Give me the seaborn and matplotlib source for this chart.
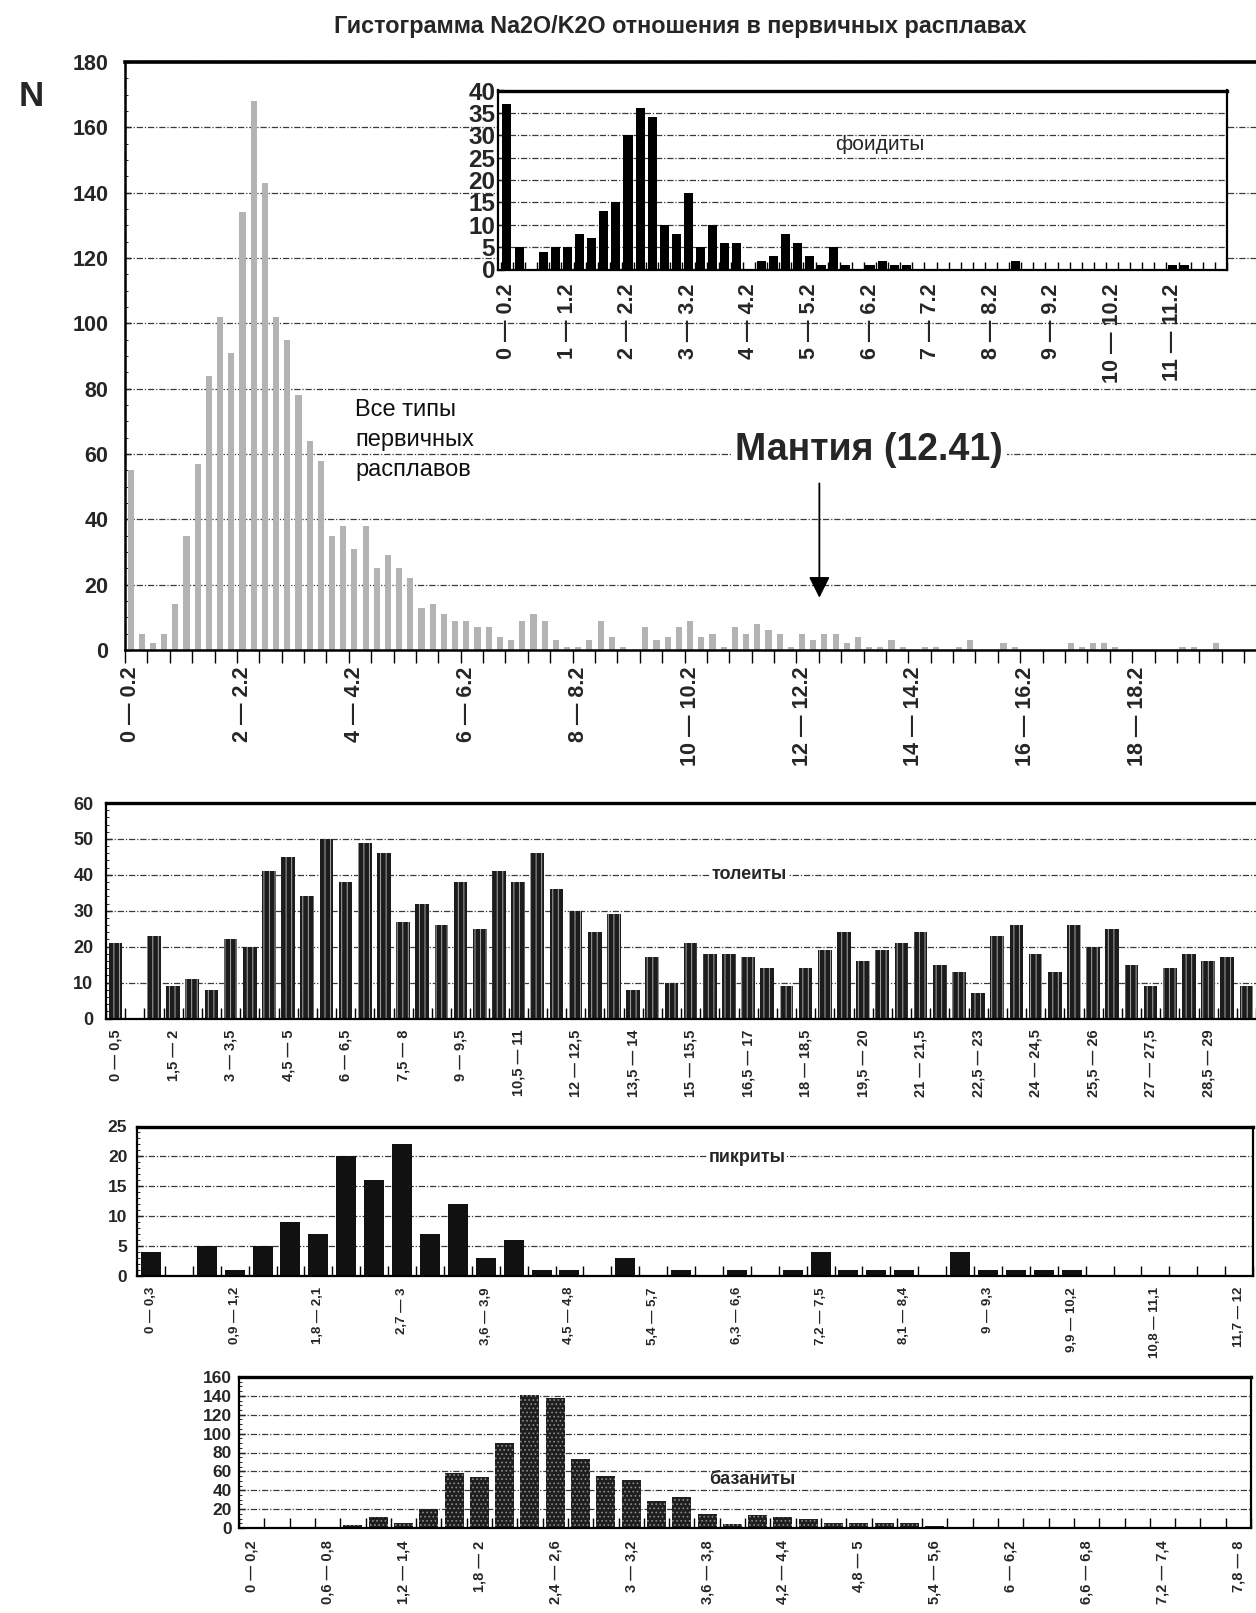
import matplotlib
matplotlib.use("Agg")
import matplotlib.pyplot as plt
from matplotlib import font_manager
from matplotlib.ticker import MultipleLocator
import numpy as np
import pandas as pd
import seaborn as sns

# ---------------- data ----------------
# all primary melts, Na2O/K2O bins of 0.2
all_counts = [55, 5, 2, 5, 14, 35, 57, 84, 102, 91,
              134, 168, 143, 102, 95, 78, 64, 58, 35, 38,
              31, 38, 25, 29, 25, 22, 13, 14, 11, 9,
              9, 7, 7, 4, 3, 9, 11, 9, 3, 1,
              1, 3, 9, 4, 1, 0, 7, 3, 4, 7,
              9, 4, 5, 1, 7, 5, 8, 6, 5, 1,
              5, 3, 5, 5, 2, 4, 1, 1, 3, 1,
              0, 1, 1, 0, 1, 3, 0, 0, 2, 1,
              0, 0, 0, 0, 2, 1, 2, 2, 1, 0,
              0, 0, 0, 0, 1, 1, 0, 2, 0, 0]
# foidites, bins of 0.2
foid_counts = [37, 5, 0, 4, 5, 5, 8, 7, 13, 15,
               30, 36, 34, 10, 8, 17, 5, 10, 6, 6,
               0, 2, 3, 8, 6, 3, 1, 5, 1, 0,
               1, 2, 1, 1, 0, 0, 0, 0, 0, 0,
               0, 0, 2, 0, 0, 0, 0, 0, 0, 0,
               0, 0, 0, 0, 0, 1, 1, 0, 0, 0]
# tholeiites, bins of 0.5
thol_counts = [21, 0, 23, 9, 11, 8, 22, 20, 41, 45,
               34, 50, 38, 49, 46, 27, 32, 26, 38, 25,
               41, 38, 46, 36, 30, 24, 29, 8, 17, 10,
               21, 18, 18, 17, 14, 9, 14, 19, 24, 16,
               19, 21, 24, 15, 13, 7, 23, 26, 18, 13,
               26, 20, 25, 15, 9, 14, 18, 16, 17, 9]
# picrites, bins of 0.3
pikr_counts = [4, 0, 5, 1, 5, 9, 7, 20, 16, 22,
               7, 12, 3, 6, 1, 1, 0, 3, 0, 1,
               0, 1, 0, 1, 4, 1, 1, 1, 0, 4,
               1, 1, 1, 1, 0, 0, 0, 0, 0, 0]
# basanites, bins of 0.2
bas_counts = [1, 0, 1, 0, 3, 12, 5, 20, 58, 54,
              90, 141, 138, 73, 55, 51, 29, 33, 15, 4,
              14, 12, 10, 5, 5, 5, 5, 2, 0, 0,
              0, 0, 0, 0, 0, 0, 0, 0, 0, 0]

all_width, foid_width, thol_width, pikr_width, bas_width = 0.2, 0.2, 0.5, 0.3, 0.2
mantle_ratio = 12.41

title = "Гистограмма Na2O/K2O отношения в первичных расплавах"

# ---------------- style ----------------
sns.set_theme(style="white")
avail = {f.name for f in font_manager.fontManager.ttflist}
narrow = "Liberation Sans Narrow" if "Liberation Sans Narrow" in avail else "Liberation Sans"
plt.rcParams["font.family"] = [narrow, "DejaVu Sans"]
plt.rcParams["hatch.linewidth"] = 0.7
plt.rcParams["axes.facecolor"] = "white"

GRID = dict(color="#3a3a3a", linewidth=0.9, linestyle=(0, (5, 1.5, 1, 1.5)))

W, H = 1256, 1613
fig = plt.figure(figsize=(W / 100, H / 100), dpi=100)


def axes_px(left, right, top, bottom):
    return fig.add_axes([left / W, 1 - bottom / H, (right - left) / W, (bottom - top) / H])


def bin_labels(n, w, dec="."):
    out = []
    for i in range(n):
        lo, hi = round(i * w, 2), round((i + 1) * w, 2)
        out.append(f"{lo:g} — {hi:g}".replace(".", dec))
    return out


def draw_bars(ax, counts, labels, color, width, **kw):
    df = pd.DataFrame({"bin": labels, "N": counts})
    sns.barplot(data=df, x="bin", y="N", order=labels, color=color, width=width,
                saturation=1, errorbar=None, ax=ax, **kw)
    ax.set_xlabel("")
    ax.set_ylabel("")


def style_axes(ax, n, every, labels, ymax, ystep, yminor, xlim, xsize, ysize,
               right=True, tick_dir="in", tick_len=6, boundary_step=1, lw=1.6,
               xpad=7, ypad=4):
    ax.set_xlim(*xlim)
    ax.set_ylim(0, ymax)
    pos = np.arange(0, n, every)
    ax.set_xticks(pos, [labels[i] for i in pos], rotation=90, fontsize=xsize,
                  fontweight="bold")
    ax.set_xticks(np.arange(-0.5, n + 0.5, boundary_step), minor=True)
    ax.tick_params(axis="x", which="major", length=0, pad=xpad)
    ax.tick_params(axis="x", which="minor", direction=tick_dir, length=tick_len,
                   width=1.0, color="black", bottom=True)
    ax.set_yticks(np.arange(0, ymax + 0.1, ystep))
    ax.yaxis.set_minor_locator(MultipleLocator(yminor))
    ax.tick_params(axis="y", which="major", labelsize=ysize, length=4, width=1.0,
                   direction="in", left=True, pad=ypad)
    ax.tick_params(axis="y", which="minor", length=2.5, width=0.7,
                   direction="in", left=True)
    for lab in ax.get_yticklabels():
        lab.set_fontweight("bold")
    ax.yaxis.grid(True, which="major", **GRID)
    ax.set_axisbelow(True)
    for side in ("left", "bottom", "top"):
        ax.spines[side].set_color("black")
        ax.spines[side].set_linewidth(lw)
    ax.spines["top"].set_linewidth(lw + 0.8)
    ax.spines["right"].set_visible(right)
    ax.spines["right"].set_color("black")
    ax.spines["right"].set_linewidth(lw)


# ---------------- main histogram: all primary melts ----------------
ax = axes_px(125, 1256, 62, 650)
lab_all = bin_labels(len(all_counts), all_width)
draw_bars(ax, all_counts, lab_all, "#b3b3b3", 0.55, linewidth=0)
style_axes(ax, len(all_counts), 10, lab_all, 180, 20, 5, (-0.5, 100.57), 15.5, 15.5,
           right=False, tick_dir="out", tick_len=9, boundary_step=2, lw=1.8,
           xpad=12, ypad=12)

ax.text(20.05, 64.3, "Все типы\nпервичных\nрасплавов", fontsize=17,
        family=["Liberation Sans", "DejaVu Sans"], ha="left", va="center",
        linespacing=1.45, color="#111111")

mantle_x = mantle_ratio / all_width - 0.5
ax.annotate("", xy=(mantle_x, 16), xytext=(mantle_x, 51),
            arrowprops=dict(arrowstyle="-|>", color="black", lw=1.3,
                            mutation_scale=32, shrinkA=0, shrinkB=0))
ax.text(66.0, 61.3, f"Мантия ({mantle_ratio})", fontsize=27, fontweight="bold",
        ha="center", va="center",
        bbox=dict(facecolor="white", edgecolor="none", pad=3))

fig.text(31 / W, 1 - 97 / H, "N", fontsize=25, fontweight="bold",
         family=["Liberation Sans", "DejaVu Sans"], ha="center", va="center")
fig.text(680 / W, 1 - 27 / H, title, fontsize=16.8, fontweight="bold",
         ha="center", va="center")

# ---------------- inset: foidites ----------------
axi = axes_px(498, 1227, 90.5, 269.5)
axi.set_facecolor("white")
axi.patch.set_alpha(1)
lab_foid = bin_labels(len(foid_counts), foid_width)
draw_bars(axi, foid_counts, lab_foid, "black", 0.75, linewidth=0)
style_axes(axi, len(foid_counts), 5, lab_foid, 40, 5, 5, (-0.74, 59.5), 15.5, 17.5,
           right=True, tick_dir="in", tick_len=6, boundary_step=1, lw=1.6,
           xpad=10, ypad=2)
axi.text(27.1, 28, "фоидиты", fontsize=15, family=["Liberation Sans", "DejaVu Sans"],
         ha="left", va="center")

# ---------------- tholeiites ----------------
axt = axes_px(106, 1256, 803, 1018.5)
lab_thol = bin_labels(len(thol_counts), thol_width, ",")
draw_bars(axt, thol_counts, lab_thol, "#1c1c1c", 0.72, hatch="|||",
          edgecolor="#a8a8a8", linewidth=0)
style_axes(axt, len(thol_counts), 3, lab_thol, 60, 10, 2, (-0.5, 59.5), 10.5, 13,
           right=False, tick_dir="in", tick_len=8, boundary_step=1, lw=1.6,
           xpad=8, ypad=9)
axt.text(31.1, 40.2, "толеиты", fontsize=13, fontweight="bold", ha="left", va="center",
         bbox=dict(facecolor="white", edgecolor="none", pad=1))

# ---------------- picrites ----------------
axp = axes_px(137, 1253, 1126.5, 1276)
lab_pikr = bin_labels(len(pikr_counts), pikr_width, ",")
draw_bars(axp, pikr_counts, lab_pikr, "#111111", 0.72, linewidth=0)
style_axes(axp, len(pikr_counts), 3, lab_pikr, 25, 5, 1, (-0.5, 39.5), 9.5, 12.5,
           right=True, tick_dir="in", tick_len=7, boundary_step=1, lw=1.6,
           xpad=8, ypad=7)
axp.text(20.0, 19.8, "пикриты", fontsize=13, fontweight="bold", ha="left", va="center",
         bbox=dict(facecolor="white", edgecolor="none", pad=1))

# ---------------- basanites ----------------
axb = axes_px(239, 1251, 1377, 1528)
lab_bas = bin_labels(len(bas_counts), bas_width, ",")
draw_bars(axb, bas_counts, lab_bas, "#1e1e1e", 0.75, hatch="....",
          edgecolor="#8c8c8c", linewidth=0)
style_axes(axb, len(bas_counts), 3, lab_bas, 160, 20, 5, (-0.5, 39.5), 10.5, 12.5,
           right=True, tick_dir="in", tick_len=7, boundary_step=1, lw=1.6,
           xpad=9, ypad=5)
axb.text(18.1, 51, "базаниты", fontsize=13, fontweight="bold", ha="left", va="center")

fig.savefig("out.png", dpi=100, facecolor="white")
